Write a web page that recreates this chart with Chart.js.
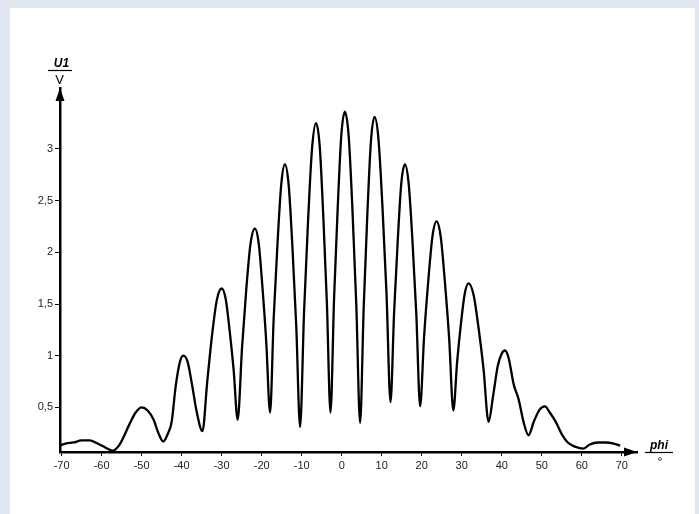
<!DOCTYPE html>
<html>
<head>
<meta charset="utf-8">
<script src="https://cdn.jsdelivr.net/npm/chart.js@4"></script>
<style>
  html, body { margin: 0; padding: 0; background: #dfe6f1; }
  #panel { position: absolute; left: 10px; top: 8px; width: 685px; height: 506px; background: #fff; }
  #chart1 { display: block; }
</style>
</head>
<body>
<div id="panel"><canvas id="chart1" width="685" height="506"></canvas></div>
<script>
const phiValues = [
  -70.5, -69, -67, -65, -63, -61, -59, -57.3, -55.5, -53, -51.5, -50, -48.5, -47, -45.8, -44.6,
  -43.5, -42.5, -41.5, -40.5, -39.6, -38.5, -37.5, -36.2, -34.8,
  -33.6, -32.4, -31.2, -30, -29, -28, -27, -26,
  -24.9, -23.85, -22.8, -21.7, -20.75, -19.8, -18.85, -17.9,
  -17, -16.05, -15.1, -14.2, -13.25, -12.3, -11.35, -10.4,
  -9.4, -8.4, -7.4, -6.4, -5.5, -4.6, -3.7, -2.8,
  -1.9, -1.0, -0.1, 0.8, 1.75, 2.7, 3.65, 4.6,
  5.5, 6.4, 7.3, 8.2, 9.2, 10.2, 11.2, 12.2,
  13.1, 14.0, 14.9, 15.8, 16.75, 17.7, 18.65, 19.6,
  20.6, 21.65, 22.7, 23.7, 24.75, 25.8, 26.85, 27.9,
  28.85, 29.8, 30.75, 31.7, 32.95, 34.2, 35.45, 36.7,
  37.8, 39, 40, 40.8, 41.7, 43, 44.2, 45.5, 46.7,
  48, 49.5, 50.8, 52, 53.5, 55, 56.5, 58.3, 60.4, 62, 64, 66, 68, 69.6
];
const u1Values = [
  0.13, 0.15, 0.16, 0.18, 0.18, 0.15, 0.11, 0.08, 0.14, 0.34, 0.45, 0.50, 0.47, 0.38, 0.25, 0.17,
  0.24, 0.36, 0.70, 0.93, 1.00, 0.94, 0.74, 0.45, 0.27,
  0.75, 1.20, 1.54, 1.65, 1.55, 1.24, 0.86, 0.38,
  1.08, 1.64, 2.08, 2.23, 2.09, 1.66, 1.13, 0.45,
  1.36, 2.08, 2.66, 2.85, 2.65, 2.04, 1.28, 0.31,
  1.43, 2.31, 3.01, 3.25, 3.03, 2.35, 1.51, 0.45,
  1.56, 2.43, 3.13, 3.36, 3.12, 2.40, 1.49, 0.35,
  1.47, 2.36, 3.07, 3.31, 3.09, 2.43, 1.60, 0.55,
  1.42, 2.11, 2.67, 2.85, 2.66, 2.10, 1.40, 0.51,
  1.19, 1.73, 2.16, 2.30, 2.15, 1.71, 1.17, 0.47,
  0.94, 1.31, 1.60, 1.70, 1.59, 1.27, 0.87, 0.36,
  0.60, 0.90, 1.02, 1.05, 0.98, 0.72, 0.58, 0.35, 0.23,
  0.36, 0.48, 0.51, 0.45, 0.36, 0.24, 0.16, 0.12, 0.10, 0.14, 0.16, 0.16, 0.15, 0.13
];
const xTicks = [-70, -60, -50, -40, -30, -20, -10, 0, 10, 20, 30, 40, 50, 60, 70];
const yTicks = [0.5, 1, 1.5, 2, 2.5, 3];

const points = phiValues.map((p, i) => ({ x: p, y: u1Values[i] }));

const axisDecor = {
  id: 'axisDecor',
  afterDraw(chart) {
    const ctx = chart.ctx;
    const a = chart.chartArea;
    ctx.save();
    ctx.fillStyle = '#000';
    ctx.strokeStyle = '#000';
    // arrow heads
    ctx.beginPath();
    ctx.moveTo(a.left, a.top);
    ctx.lineTo(a.left - 4.5, a.top + 13);
    ctx.lineTo(a.left + 4.5, a.top + 13);
    ctx.closePath();
    ctx.fill();
    ctx.beginPath();
    ctx.moveTo(a.right, a.bottom);
    ctx.lineTo(a.right - 13, a.bottom - 4.5);
    ctx.lineTo(a.right - 13, a.bottom + 4.5);
    ctx.closePath();
    ctx.fill();
    // y axis title as fraction U1 / V
    ctx.textAlign = 'center';
    ctx.textBaseline = 'alphabetic';
    ctx.font = 'italic bold 12px "Liberation Sans", Arial, sans-serif';
    ctx.fillText('U1', 51.5, 59);
    ctx.lineWidth = 1.2;
    ctx.beginPath();
    ctx.moveTo(38, 62.5);
    ctx.lineTo(62, 62.5);
    ctx.stroke();
    ctx.font = '13px "Liberation Sans", Arial, sans-serif';
    ctx.fillText('V', 49.5, 76);
    // x axis title as fraction phi / deg
    ctx.font = 'italic bold 12px "Liberation Sans", Arial, sans-serif';
    ctx.fillText('phi', 649, 441);
    ctx.beginPath();
    ctx.moveTo(635, 444.5);
    ctx.lineTo(663, 444.5);
    ctx.stroke();
    ctx.font = '12px "Liberation Sans", Arial, sans-serif';
    ctx.fillText('°', 650, 458);
    ctx.restore();
  }
};

new Chart('chart1', {
  type: 'line',
  data: {
    datasets: [{
      data: points,
      borderColor: '#000',
      borderWidth: 2.3,
      pointRadius: 0,
      fill: false,
      cubicInterpolationMode: 'monotone'
    }]
  },
  options: {
    responsive: false,
    animation: false,
    layout: { padding: { left: 0, top: 80, right: 58, bottom: 0 } },
    plugins: { legend: { display: false }, tooltip: { enabled: false } },
    scales: {
      x: {
        type: 'linear',
        min: -70.4,
        max: 73.8,
        afterBuildTicks: s => { s.ticks = xTicks.map(v => ({ value: v })); },
        afterFit: s => { s.height = 62; },
        border: { display: true, color: '#000', width: 2.5 },
        grid: { drawOnChartArea: false, drawTicks: true, tickLength: 4, color: '#000', lineWidth: 1 },
        ticks: {
          color: '#222',
          padding: 3,
          maxRotation: 0,
          autoSkip: false,
          font: { family: '"Liberation Sans", Arial, sans-serif', size: 11 }
        }
      },
      y: {
        type: 'linear',
        min: 0.068,
        max: 3.59,
        afterBuildTicks: s => { s.ticks = yTicks.map(v => ({ value: v })); },
        afterFit: s => { s.width = 50; },
        border: { display: true, color: '#000', width: 2.5 },
        grid: { drawOnChartArea: false, drawTicks: true, tickLength: 5, color: '#000', lineWidth: 1 },
        ticks: {
          color: '#222',
          padding: 2,
          autoSkip: false,
          callback: v => String(v).replace('.', ','),
          font: { family: '"Liberation Sans", Arial, sans-serif', size: 11 }
        }
      }
    }
  },
  plugins: [axisDecor]
});
</script>
</body>
</html>
